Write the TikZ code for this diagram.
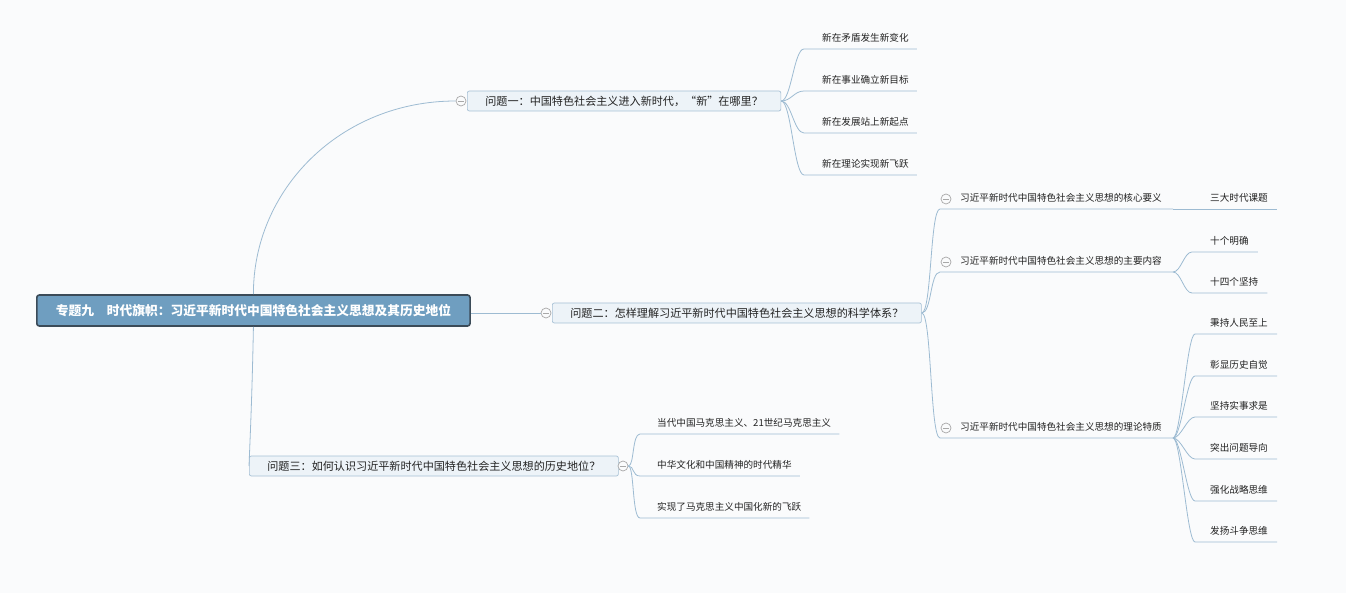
\documentclass[tikz,border=0pt]{standalone}
\usepackage{fontspec}
\setmainfont{Noto Sans CJK SC}

\begin{document}
\begin{tikzpicture}[x=1pt, y=-1pt,
    link/.style={draw=lineColor, line width=0.8pt},
    rootbox/.style={draw=rootEdge, line width=1.6pt, fill=rootFill, rounded corners=2.5pt,
        text=white, font=\fontsize{12.75}{15}\selectfont\bfseries,
        minimum height=31pt, inner xsep=19pt, anchor=west},
    qbox/.style={draw=qEdge, line width=0.7pt, fill=qFill, rounded corners=2pt,
        text=textColor, font=\fontsize{11.1}{12}\selectfont,
        minimum height=20pt, inner xsep=18pt, inner ysep=0pt, anchor=west},
    leaf/.style={text=textColor, font=\fontsize{9.6}{11}\selectfont,
        inner xsep=0pt, inner ysep=5pt, text height=8pt, text depth=2pt, anchor=south west},
    toggle/.style={circle, draw=toggleGray, line width=0.7pt, fill=bgColor,
        minimum size=10pt, inner sep=0pt,
        path picture={\draw[toggleGray, line width=0.7pt]
            ([xshift=-3pt]path picture bounding box.center) -- ([xshift=3pt]path picture bounding box.center);}}
]

% Define Colors
\definecolor{bgColor}{HTML}{FAFBFC}
\definecolor{lineColor}{HTML}{9DBBD2}
\definecolor{rootFill}{HTML}{6F9EC0}
\definecolor{rootEdge}{HTML}{3B4B58}
\definecolor{qFill}{HTML}{EDF3F8}
\definecolor{qEdge}{HTML}{A6C0D5}
\definecolor{textColor}{HTML}{222222}
\definecolor{toggleGray}{HTML}{A8A8A8}

\fill[bgColor] (0,0) rectangle (1346,593);
\useasboundingbox (0,0) rectangle (1346,593);

% --- ROOT AND THE THREE QUESTIONS ---
    \node[rootbox] (root) at (36,310.5) {专题九　时代旗帜：习近平新时代中国特色社会主义思想及其历史地位};

    \node[toggle] (t1) at (461,101) {};
    \node[qbox] (q1) at (467,101) {问题一：中国特色社会主义进入新时代，“新”在哪里？};

    \node[toggle] (t2) at (546,313) {};
    \node[qbox] (q2) at (552,313) {问题二：怎样理解习近平新时代中国特色社会主义思想的科学体系？};

    \node[qbox] (q3) at (249,466) {问题三：如何认识习近平新时代中国特色社会主义思想的历史地位？};
    \node[toggle] (t3) at (623,466) {};

    \draw[link] (root.north) .. controls (253,190) and (340,101) .. (t1.west);
    \draw[link] (root.east |- t2.west) -- (t2.west);
    \draw[link] (root.south) .. controls (252,400) and (250,440) .. (q3.west);

% --- QUESTION 1: four leaves ---
    \foreach \txt/\y [count=\i] in {新在矛盾发生新变化/49, 新在事业确立新目标/91,
                                     新在发展站上新起点/133, 新在理论实现新飞跃/175} {
    \node[leaf] (a\i) at (822,\y) {\txt};
    \draw[link] (q1.east) .. controls +(10,0) and +(-10,0) .. ([xshift=-18pt]a\i.south west) -- ([xshift=8pt]a\i.south east);
    }

% --- QUESTION 2: three parts ---
    \foreach \txt/\y [count=\i] in {习近平新时代中国特色社会主义思想的核心要义/209,
                                     习近平新时代中国特色社会主义思想的主要内容/272,
                                     习近平新时代中国特色社会主义思想的理论特质/438} {
    \node[leaf] (b\i) at (960,\y) {\txt};
    \node[toggle] (tb\i) at (946,\y-10) {};
    \coordinate (b\i e) at ([xshift=11pt]b\i.south east);
    \draw[link] (q2.east) .. controls +(10,0) and +(-10,0) .. ([xshift=-20pt]b\i.south west) -- (b\i e);
    }

% core meaning
    \node[leaf] (c1) at (1210,209) {三大时代课题};
    \draw[link] (b1e) -- ([xshift=9pt]c1.south east);

% main content
    \foreach \txt/\y [count=\i] in {十个明确/252, 十四个坚持/293} {
    \node[leaf] (d\i) at (1210,\y) {\txt};
    \draw[link] (b2e) .. controls +(8,0) and +(-8,0) .. ([xshift=-18pt]d\i.south west) -- ([xshift=9pt]d\i.south east);
    }

% theoretical qualities
    \foreach \txt/\y [count=\i] in {秉持人民至上/334, 彰显历史自觉/376, 坚持实事求是/417,
                                     突出问题导向/459, 强化战略思维/501, 发扬斗争思维/542} {
    \node[leaf] (e\i) at (1210,\y) {\txt};
    \draw[link] (b3e) .. controls +(8,0) and +(-8,0) .. ([xshift=-15pt]e\i.south west) -- ([xshift=9pt]e\i.south east);
    }

% --- QUESTION 3: three leaves ---
    \foreach \txt/\y [count=\i] in {当代中国马克思主义、21世纪马克思主义/434,
                                     中华文化和中国精神的时代精华/476,
                                     实现了马克思主义中国化新的飞跃/518} {
    \node[leaf] (f\i) at (657,\y) {\txt};
    \draw[link] (t3.east) .. controls +(6,0) and +(-8,0) .. ([xshift=-17pt]f\i.south west) -- ([xshift=8pt]f\i.south east);
    }

\end{tikzpicture}
\end{document}
